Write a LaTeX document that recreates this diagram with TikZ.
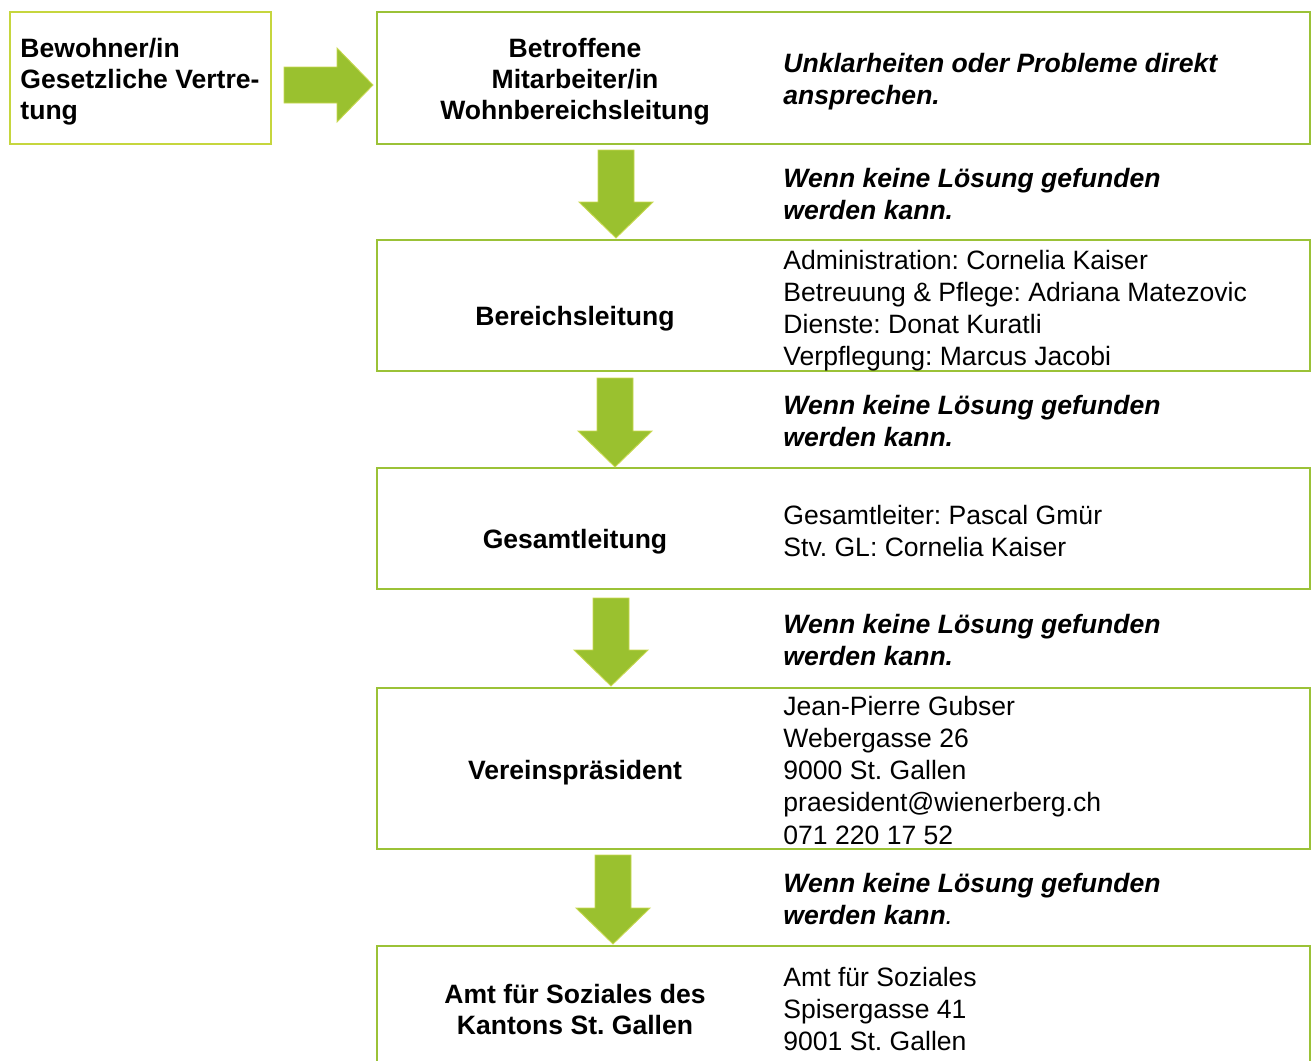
\documentclass[tikz,border=0pt]{standalone}
\usepackage{fontspec}
\setmainfont{Liberation Sans}
\usepackage{tikz}
\usetikzlibrary{calc,positioning}
\frenchspacing
\definecolor{boxgreen}{RGB}{155,194,55}
\definecolor{lightgreen}{RGB}{198,214,62}
\definecolor{arrowgreen}{RGB}{154,193,47}
\definecolor{arrowedge}{RGB}{200,216,80}
\newcommand{\pxl}{0.452pt}
\tikzset{
  box/.style={draw=boxgreen, line width=1pt, inner sep=0pt, outer sep=0pt, minimum width=933*\pxl},
  title/.style={font=\fontsize{12pt}{14pt}\selectfont\bfseries, align=center, inner sep=0pt, text depth=2.5pt},
  note/.style={font=\fontsize{12pt}{14.5pt}\selectfont\bfseries\itshape, align=left, anchor=west, inner sep=0pt, text depth=2.5pt},
  info/.style={font=\fontsize{12pt}{14.5pt}\selectfont, align=left, anchor=west, inner sep=0pt, text depth=2.5pt},
  blockarrow/.style={fill=arrowgreen, draw=arrowedge, line width=0.4pt, line join=miter}
}

\begin{document}
\begin{tikzpicture}[x=0.452pt,y=-0.452pt]
\useasboundingbox (0,0) rectangle (1314,1060);
\node[box, draw=lightgreen, minimum width=261*\pxl, minimum height=132*\pxl] (resident) at (140.5,78) {};
\node[box, minimum height=132*\pxl] (contact) at (843.5,78) {};
\node[box, minimum height=131*\pxl] (area) at (843.5,305.5) {};
\node[box, minimum height=121*\pxl] (management) at (843.5,528.5) {};
\node[box, minimum height=161*\pxl] (president) at (843.5,768.5) {};
\node[box, minimum height=130*\pxl] (office) at (843.5,1011) {};

\node[title, anchor=west, align=left] (residenttext) at (20,82) {Bewohner/in\\Gesetzliche Vertre-\\tung};
\node[title] (contacttext) at (575,82) {Betroffene\\Mitarbeiter/in\\Wohnbereichsleitung};
\node[note] (contactnote) at (783,82) {Unklarheiten oder Probleme direkt\\ansprechen.};
\node[title] (areatext) at (575,319) {Bereichsleitung};
\node[info] (areainfo) at (783,311) {Administration: Cornelia Kaiser\\Betreuung \& Pflege: Adriana Matezovic\\Dienste: Donat Kuratli\\Verpflegung: Marcus Jacobi};
\node[title] (managementtext) at (575,542) {Gesamtleitung};
\node[info] (managementinfo) at (783,534) {Gesamtleiter: Pascal Gmür\\Stv. GL: Cornelia Kaiser};
\node[title] (presidenttext) at (575,773) {Vereinspräsident};
\node[info] (presidentinfo) at (783,773) {Jean-Pierre Gubser\\Webergasse 26\\9000 St. Gallen\\praesident@wienerberg.ch\\071 220 17 52};
\node[title] (officetext) at (575,1012) {Amt für Soziales des\\Kantons St. Gallen};
\node[info] (officeinfo) at (783,1012) {Amt für Soziales\\Spisergasse 41\\9001 St. Gallen};

\node[note] (escalate1) at (783,197) {Wenn keine Lösung gefunden\\werden kann.};
\node[note] (escalate2) at (783,424) {Wenn keine Lösung gefunden\\werden kann.};
\node[note] (escalate3) at (783,643) {Wenn keine Lösung gefunden\\werden kann.};
\node[note] (escalate4) at (783,902) {Wenn keine Lösung gefunden\\werden kann\textmd{.}};

\filldraw[blockarrow] ($(resident.south east)+(13,-41)$) -- ++(0,-36) -- ++(53,0) -- ++(0,-19) -- ++(36,37) -- ++(-36,37) -- ++(0,-19) -- cycle;
\filldraw[blockarrow] ($(contact.south west)+(221,6)$) -- ++(36,0) -- ++(0,52) -- ++(19,0) -- ++(-37,36) -- ++(-37,-36) -- ++(19,0) -- cycle;
\filldraw[blockarrow] ($(area.south west)+(220,7)$) -- ++(36,0) -- ++(0,53) -- ++(19,0) -- ++(-37,36) -- ++(-37,-36) -- ++(19,0) -- cycle;
\filldraw[blockarrow] ($(management.south west)+(216,9)$) -- ++(36,0) -- ++(0,52) -- ++(19,0) -- ++(-37,36) -- ++(-37,-36) -- ++(19,0) -- cycle;
\filldraw[blockarrow] ($(president.south west)+(218,6)$) -- ++(36,0) -- ++(0,53) -- ++(19,0) -- ++(-37,36) -- ++(-37,-36) -- ++(19,0) -- cycle;
\end{tikzpicture}
\end{document}
